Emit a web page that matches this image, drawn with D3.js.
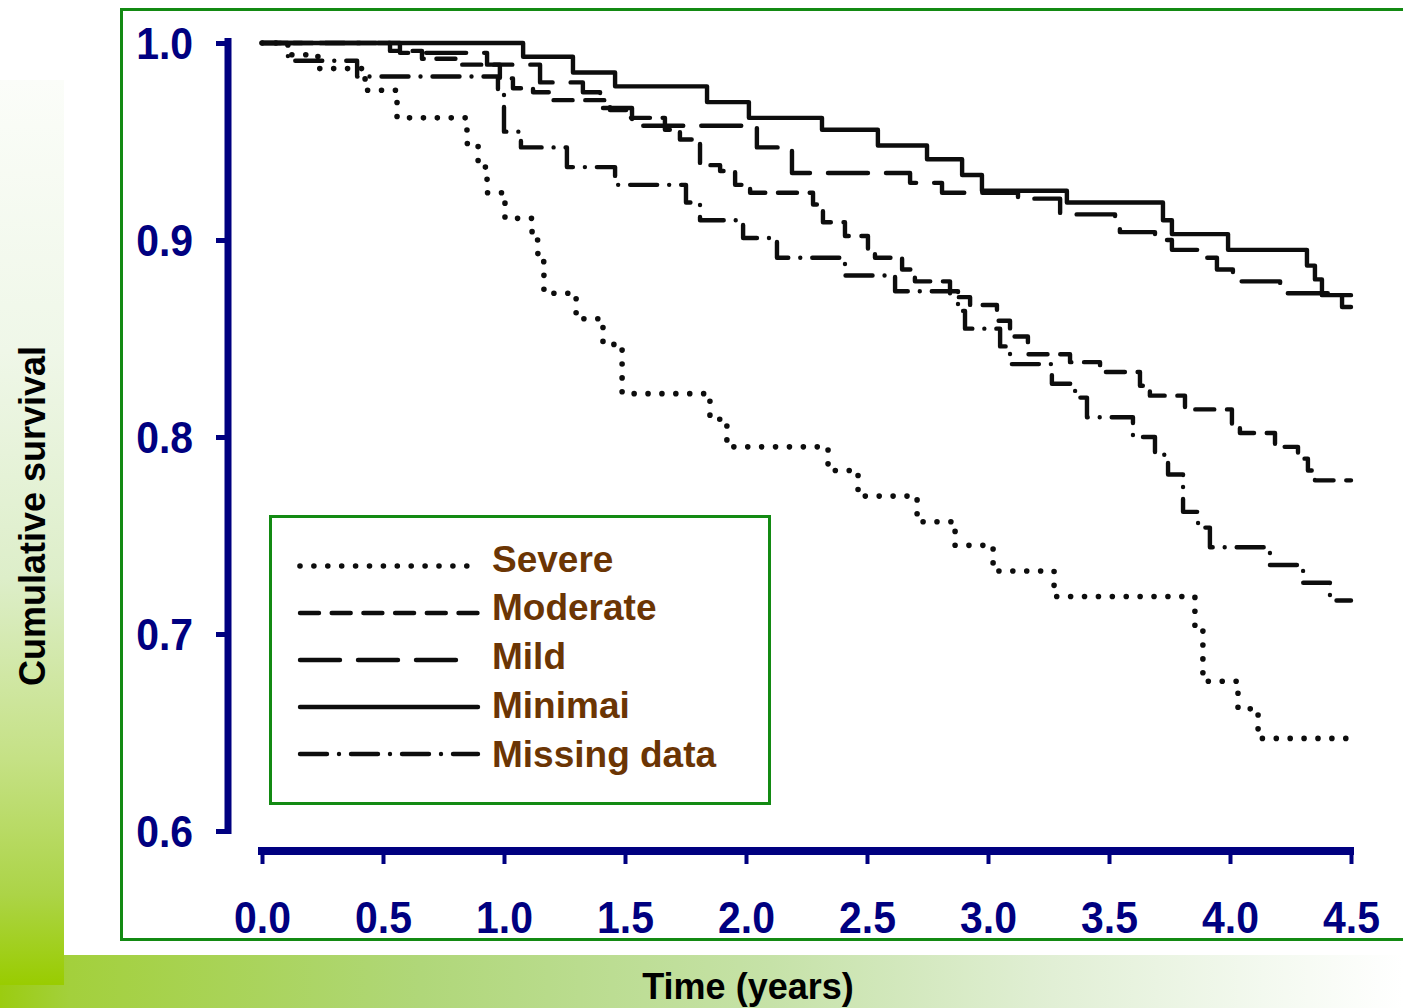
<!DOCTYPE html>
<html>
<head>
<meta charset="utf-8">
<script src="https://cdn.jsdelivr.net/npm/d3@7"></script>
<style>
  html, body { margin: 0; padding: 0; background: #ffffff; }
  svg { display: block; }
  text { font-family: "Liberation Sans", Arial, Helvetica, sans-serif; font-weight: bold; }
</style>
</head>
<body>
<svg id="chart" width="1403" height="1008"></svg>
<script>
// Kaplan-Meier style survival steps: [time in years, cumulative survival]
const severe = [
  [0, 1.000], [0.107, 0.994], [0.231, 0.987], [0.426, 0.976], [0.558, 0.962],
  [0.847, 0.949], [0.893, 0.937], [0.930, 0.924], [1.004, 0.911], [1.116, 0.900],
  [1.140, 0.889], [1.165, 0.873], [1.298, 0.860], [1.409, 0.847], [1.488, 0.822],
  [1.851, 0.809], [1.921, 0.795], [2.339, 0.783], [2.463, 0.770], [2.707, 0.757],
  [2.864, 0.745], [3.021, 0.732], [3.273, 0.719], [3.855, 0.703], [3.888, 0.676],
  [4.033, 0.662], [4.116, 0.647]
];
const moderate = [
  [0, 1.000], [0.529, 0.996], [0.661, 0.992], [0.826, 0.989], [0.983, 0.982],
  [1.037, 0.977], [1.120, 0.975], [1.202, 0.971], [1.438, 0.966], [1.521, 0.962],
  [1.665, 0.956], [1.727, 0.951], [1.810, 0.938], [1.893, 0.935], [1.955, 0.928],
  [2.017, 0.924], [2.277, 0.918], [2.318, 0.909], [2.409, 0.902], [2.504, 0.895],
  [2.533, 0.891], [2.645, 0.885], [2.698, 0.879], [2.843, 0.871], [2.926, 0.867],
  [3.037, 0.859], [3.091, 0.851], [3.165, 0.842], [3.339, 0.838], [3.463, 0.833],
  [3.628, 0.826], [3.669, 0.821], [3.814, 0.814], [4.008, 0.806], [4.041, 0.802],
  [4.186, 0.795], [4.281, 0.789], [4.322, 0.783], [4.351, 0.778]
];
const mild = [
  [0, 1.000], [0.570, 0.995], [0.930, 0.989], [1.149, 0.980], [1.326, 0.975],
  [1.397, 0.967], [1.529, 0.958], [2.045, 0.947], [2.190, 0.934], [2.678, 0.929],
  [2.810, 0.924], [3.124, 0.921], [3.298, 0.913], [3.525, 0.909], [3.545, 0.904],
  [3.690, 0.900], [3.760, 0.895], [3.868, 0.891], [3.946, 0.885], [4.012, 0.879],
  [4.207, 0.873], [4.463, 0.866]
];
const minimal = [
  [0, 1.000], [1.079, 0.993], [1.285, 0.985], [1.459, 0.978], [1.839, 0.970],
  [2.012, 0.962], [2.314, 0.956], [2.545, 0.948], [2.748, 0.941], [2.893, 0.933],
  [2.975, 0.925], [3.326, 0.919], [3.723, 0.910], [3.760, 0.903], [3.992, 0.895],
  [4.318, 0.887], [4.351, 0.880], [4.380, 0.872]
];
const missingData = [
  [0, 1.000], [0.107, 0.991], [0.393, 0.983], [0.975, 0.976], [1.000, 0.955],
  [1.070, 0.947], [1.260, 0.937], [1.459, 0.928], [1.752, 0.919], [1.810, 0.910],
  [1.988, 0.901], [2.128, 0.891], [2.409, 0.882], [2.616, 0.874], [2.876, 0.864],
  [2.905, 0.855], [3.050, 0.846], [3.091, 0.837], [3.264, 0.827], [3.360, 0.820],
  [3.409, 0.810], [3.599, 0.800], [3.690, 0.791], [3.744, 0.781], [3.806, 0.762],
  [3.868, 0.754], [3.917, 0.744], [4.165, 0.735], [4.302, 0.726], [4.413, 0.717]
];
const followUpEnd = 4.5;

const seriesNames = ["Severe", "Moderate", "Mild", "Minimai", "Missing data"];
const xTickValues = [0, 0.5, 1.0, 1.5, 2.0, 2.5, 3.0, 3.5, 4.0, 4.5];
const yTickValues = [0.6, 0.7, 0.8, 0.9, 1.0];
const xTitle = "Time (years)";
const yTitle = "Cumulative survival";

// line styles per group (legend sample length keeps whole dash cycles)
const styles = [
  { data: severe,      dash: "0 13.9",     width: 5.6, sample: 167 },
  { data: moderate,    dash: "19 12.7",    width: 4.4, sample: 178 },
  { data: mild,        dash: "40 18",      width: 4.4, sample: 159 },
  { data: minimal,     dash: null,         width: 4.4, sample: 178 },
  { data: missingData, dash: "27 12 0 12", width: 4.4, sample: 178 }
];

const NAVY = "#000080";
const GREEN = "#138a13";
const BROWN = "#6b3504";
const INK = "#0d0d0d";

const svg = d3.select("#chart");
const defs = svg.append("defs");

// slide background: green strips on the left and along the bottom
const gBand = defs.append("linearGradient").attr("id", "bandGrad")
  .attr("x1", 0).attr("x2", 1).attr("y1", 0).attr("y2", 0);
[[0, "#9bcc10"], [0.05, "#a3d03c"], [0.3, "#b0d779"], [0.55, "#c6e2a8"],
 [0.75, "#e1efd5"], [0.9, "#f3f9ef"], [1, "#ffffff"]]
  .forEach(([o, c]) => gBand.append("stop").attr("offset", o).attr("stop-color", c));

const gStrip = defs.append("linearGradient").attr("id", "stripGrad")
  .attr("x1", 0).attr("x2", 0).attr("y1", 0).attr("y2", 1);
[[0, "#fbfdf9"], [0.3, "#eff7e8"], [0.55, "#ddeec9"], [0.75, "#c5e185"],
 [0.9, "#acd447"], [1, "#99cc00"]]
  .forEach(([o, c]) => gStrip.append("stop").attr("offset", o).attr("stop-color", c));

svg.append("rect").attr("x", 0).attr("y", 955).attr("width", 1403).attr("height", 53)
  .attr("fill", "url(#bandGrad)");
svg.append("rect").attr("x", 0).attr("y", 80).attr("width", 64).attr("height", 905)
  .attr("fill", "url(#stripGrad)");

// green frame around the plot
svg.append("rect").attr("x", 121.5).attr("y", 9.5).attr("width", 1300).attr("height", 930)
  .attr("fill", "#ffffff").attr("stroke", GREEN).attr("stroke-width", 3);

// scales
const x = d3.scaleLinear().domain([0, 4.5]).range([262, 1351]);
const y = d3.scaleLinear().domain([0.6, 1.0]).range([831, 43]);

// survival curves
const line = d3.line()
  .x(d => x(d[0]))
  .y(d => y(d[1]))
  .curve(d3.curveStepAfter);

const curves = svg.append("g").attr("class", "curves");
styles.forEach(s => {
  const pts = s.data.concat([[followUpEnd, s.data[s.data.length - 1][1]]]);
  curves.append("path")
    .attr("d", line(pts))
    .attr("fill", "none")
    .attr("stroke", INK)
    .attr("stroke-width", s.width)
    .attr("stroke-linecap", "round")
    .attr("stroke-linejoin", "round")
    .attr("stroke-dasharray", s.dash);
});

// y axis
const yAxis = d3.axisLeft(y).tickValues(yTickValues).tickFormat(d3.format(".1f"))
  .tickSizeInner(12).tickSizeOuter(0).tickPadding(0);
const gy = svg.append("g").attr("transform", "translate(228,0)").call(yAxis);
gy.select(".domain").remove();
gy.append("line").attr("x1", 0).attr("x2", 0)
  .attr("y1", y(1.0) - 5).attr("y2", y(0.6) + 3)
  .attr("stroke", NAVY).attr("stroke-width", 7);
gy.selectAll(".tick line").attr("stroke", NAVY).attr("stroke-width", 5);
gy.selectAll(".tick text").attr("fill", NAVY).attr("font-size", 44)
  .attr("x", 0).attr("dy", "0.35em")
  .attr("transform", "translate(-35,0) scale(0.93,1)");

// x axis
const xAxis = d3.axisBottom(x).tickValues(xTickValues).tickFormat(d3.format(".1f"))
  .tickSizeInner(13).tickSizeOuter(0);
const gx = svg.append("g").attr("transform", "translate(0,851)").call(xAxis);
gx.select(".domain").remove();
gx.append("line").attr("x1", x(0) - 4).attr("x2", x(4.5) + 3)
  .attr("y1", 0).attr("y2", 0)
  .attr("stroke", NAVY).attr("stroke-width", 8);
gx.selectAll(".tick line").attr("stroke", NAVY).attr("stroke-width", 4);
gx.selectAll(".tick text").attr("fill", NAVY).attr("font-size", 44)
  .attr("y", 0).attr("dy", 0)
  .attr("transform", "translate(0,82) scale(0.93,1)");

// axis titles
svg.append("text").attr("x", 748).attr("y", 999)
  .attr("text-anchor", "middle").attr("font-size", 36).attr("fill", "#000")
  .text(xTitle);
svg.append("text").attr("transform", "translate(45,516) rotate(-90)")
  .attr("text-anchor", "middle").attr("font-size", 36).attr("fill", "#000")
  .text(yTitle);

// legend
const legend = svg.append("g").attr("class", "legend");
legend.append("rect").attr("x", 270.5).attr("y", 516.5).attr("width", 499).attr("height", 287)
  .attr("fill", "#ffffff").attr("stroke", GREEN).attr("stroke-width", 3);
const legendLineY = [566, 613, 660, 707, 754];
const legendTextY = [572, 620, 669, 718, 767];
styles.forEach((s, i) => {
  legend.append("line")
    .attr("x1", 300).attr("x2", 300 + s.sample)
    .attr("y1", legendLineY[i]).attr("y2", legendLineY[i])
    .attr("stroke", INK).attr("stroke-width", s.width)
    .attr("stroke-linecap", "round")
    .attr("stroke-dasharray", s.dash);
  legend.append("text")
    .attr("x", 492).attr("y", legendTextY[i])
    .attr("font-size", 37).attr("fill", BROWN)
    .text(seriesNames[i]);
});
</script>
</body>
</html>
